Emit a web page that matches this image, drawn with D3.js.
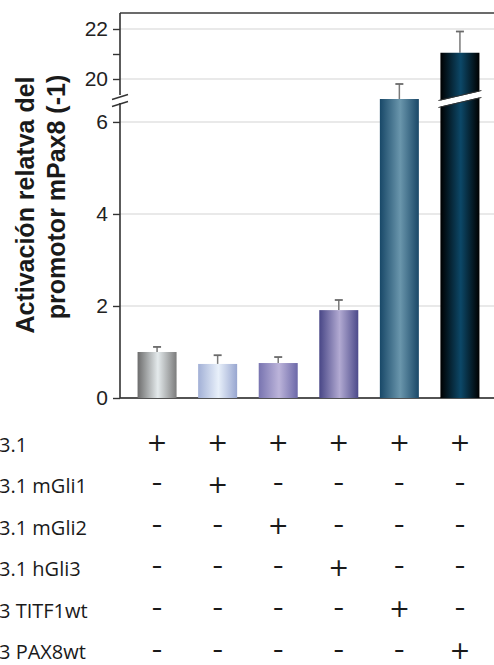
<!DOCTYPE html>
<html>
<head>
<meta charset="utf-8">
<script src="https://cdn.jsdelivr.net/npm/d3@7"></script>
<style>
  body { margin: 0; background: #fff; }
  svg { display: block; }
</style>
</head>
<body>
<div id="chart"></div>
<script>
// bar data (one bar per transfection)
const conditions = ["pcDNA", "mGli1", "mGli2", "hGli3", "TITF1", "PAX8"];
const values = [1.0, 0.74, 0.76, 1.91, 19.2, 21.05];
const errors = [0.11, 0.19, 0.13, 0.22, 0.6, 0.85];

// y axis ticks, lower and upper segment
const lowerTicks = [0, 2, 4, 6];
const upperTicks = [20, 21, 22];
const upperLabels = [20, 22];
const gridValues = [2, 4, 6, 20, 22];

// table under the chart
const rowLabels = ["3.1", "3.1 mGli1", "3.1 mGli2", "3.1 hGli3", "3 TITF1wt", "3 PAX8wt"];
const signs = [
  ["+", "+", "+", "+", "+", "+"],
  ["-", "+", "-", "-", "-", "-"],
  ["-", "-", "+", "-", "-", "-"],
  ["-", "-", "-", "+", "-", "-"],
  ["-", "-", "-", "-", "+", "-"],
  ["-", "-", "-", "-", "-", "+"]
];

// bar gradient colours: left edge, highlight, right edge
const barColors = [
  ["#6c6c6c", "#e4eaec", "#7c7c7c"],
  ["#a2b0d6", "#e8f0fa", "#98a6d0"],
  ["#7874b0", "#bcb4da", "#6c68a8"],
  ["#484686", "#b2aad2", "#4c4a8a"],
  ["#184868", "#6a96ac", "#1a4868"],
  ["#000000", "#0c4868", "#000000"]
];

const W = 494, H = 665;
const plotLeft = 120, plotRight = 497, plotTop = 13, plotBottom = 398;

const svg = d3.select("#chart").append("svg")
  .attr("width", W)
  .attr("height", H);

// scales, broken y axis
const x = d3.scaleBand()
  .domain(conditions)
  .range([plotLeft, plotRight])
  .paddingInner(0.356)
  .paddingOuter(0.29);

const yLow = d3.scaleLinear().domain([0, 6.39]).range([plotBottom, 104]);
const yHigh = d3.scaleLinear().domain([19.32, 22.64]).range([96, plotTop]);
const y = v => v <= 6.39 ? yLow(v) : yHigh(v);

// gradients
const defs = svg.append("defs");
barColors.forEach((c, i) => {
  const g = defs.append("linearGradient")
    .attr("id", "grad" + i)
    .attr("x1", "0%").attr("x2", "100%")
    .attr("y1", "0%").attr("y2", "0%");
  g.append("stop").attr("offset", "0%").attr("stop-color", c[0]);
  g.append("stop").attr("offset", "52%").attr("stop-color", c[1]);
  g.append("stop").attr("offset", "100%").attr("stop-color", c[2]);
});

// gridlines
svg.append("g").selectAll("line")
  .data(gridValues)
  .enter().append("line")
  .attr("x1", plotLeft).attr("x2", W)
  .attr("y1", d => y(d)).attr("y2", d => y(d))
  .attr("stroke", "#e2e2e2")
  .attr("stroke-width", 1.5);

// frame: top line and x axis
svg.append("line")
  .attr("x1", plotLeft).attr("x2", W)
  .attr("y1", plotTop).attr("y2", plotTop)
  .attr("stroke", "#3a3a3a").attr("stroke-width", 1.6);
svg.append("line")
  .attr("x1", plotLeft).attr("x2", W)
  .attr("y1", plotBottom).attr("y2", plotBottom)
  .attr("stroke", "#1a1a1a").attr("stroke-width", 1.6);

// error bars
const err = svg.append("g").selectAll("g")
  .data(conditions)
  .enter().append("g");
err.append("line")
  .attr("x1", d => x(d) + x.bandwidth() / 2)
  .attr("x2", d => x(d) + x.bandwidth() / 2)
  .attr("y1", (d, i) => y(values[i]))
  .attr("y2", (d, i) => y(values[i] + errors[i]))
  .attr("stroke", "#7a7a7a").attr("stroke-width", 1.5);
err.append("line")
  .attr("x1", d => x(d) + x.bandwidth() / 2 - 4)
  .attr("x2", d => x(d) + x.bandwidth() / 2 + 4)
  .attr("y1", (d, i) => y(values[i] + errors[i]))
  .attr("y2", (d, i) => y(values[i] + errors[i]))
  .attr("stroke", "#6a6a6a").attr("stroke-width", 1.8);

// bars
svg.append("g").selectAll("rect")
  .data(conditions)
  .enter().append("rect")
  .attr("x", d => x(d))
  .attr("width", x.bandwidth())
  .attr("y", (d, i) => y(values[i]))
  .attr("height", (d, i) => plotBottom - y(values[i]))
  .attr("fill", (d, i) => "url(#grad" + i + ")");

// break slash across bars that pass the break
const breakY = 99;
conditions.forEach((d, i) => {
  if (y(values[i]) > breakY - 20) return;
  const x0 = x(d) - 2, x1 = x(d) + x.bandwidth() + 2;
  const yl = breakY + 5, yr = breakY - 5;
  svg.append("path")
    .attr("d", `M${x0},${yl - 3}L${x1},${yr - 3}L${x1},${yr + 3}L${x0},${yl + 3}Z`)
    .attr("fill", "#fff");
  svg.append("line").attr("x1", x0).attr("x2", x1)
    .attr("y1", yl - 3.5).attr("y2", yr - 3.5)
    .attr("stroke", "#333").attr("stroke-width", 1);
  svg.append("line").attr("x1", x0).attr("x2", x1)
    .attr("y1", yl + 3.5).attr("y2", yr + 3.5)
    .attr("stroke", "#333").attr("stroke-width", 1);
});

// y axes
const axisStyle = g => {
  g.select(".domain").remove();
  g.selectAll(".tick line").attr("stroke", "#333").attr("stroke-width", 1.4);
  g.selectAll(".tick text")
    .attr("font-family", "'Liberation Sans', Arial, sans-serif")
    .attr("font-size", 21)
    .attr("fill", "#222");
};

svg.append("g")
  .attr("transform", `translate(${plotLeft},0)`)
  .call(d3.axisLeft(yLow).tickValues(lowerTicks).tickSize(7).tickPadding(5)
    .tickFormat(d3.format("d")))
  .call(axisStyle);

svg.append("g")
  .attr("transform", `translate(${plotLeft},0)`)
  .call(d3.axisLeft(yHigh).tickValues(upperTicks).tickSize(7).tickPadding(5)
    .tickFormat(d => upperLabels.includes(d) ? d : ""))
  .call(axisStyle);

// axis line with the break gap
svg.append("line")
  .attr("x1", plotLeft).attr("x2", plotLeft)
  .attr("y1", plotTop).attr("y2", 95)
  .attr("stroke", "#333").attr("stroke-width", 1.6);
svg.append("line")
  .attr("x1", plotLeft).attr("x2", plotLeft)
  .attr("y1", 103).attr("y2", plotBottom)
  .attr("stroke", "#333").attr("stroke-width", 1.6);
[97, 104].forEach(yy => {
  svg.append("line")
    .attr("x1", plotLeft - 8).attr("x2", plotLeft + 8)
    .attr("y1", yy + 2.5).attr("y2", yy - 2.5)
    .attr("stroke", "#333").attr("stroke-width", 1.4);
});

// y axis title
const title = svg.append("g")
  .attr("font-family", "'Liberation Sans', Arial, sans-serif")
  .attr("font-weight", "bold")
  .attr("font-size", 25)
  .attr("fill", "#1a1a1a")
  .attr("text-anchor", "middle");
title.append("text")
  .attr("transform", "translate(34,205) rotate(-90)")
  .text("Activación relatva del");
title.append("text")
  .attr("transform", "translate(65,197) rotate(-90)")
  .text("promotor mPax8 (-1)");

// table rows
const rowY = d3.scalePoint()
  .domain(rowLabels)
  .range([452, 659]);
const signY = d3.scalePoint()
  .domain(rowLabels)
  .range([443, 651]);

const table = svg.append("g")
  .attr("fill", "#1a1a1a");

table.selectAll(".rowlabel")
  .data(rowLabels)
  .enter().append("text")
  .attr("class", "rowlabel")
  .attr("x", -1)
  .attr("y", d => rowY(d))
  .attr("font-family", "'Open Sans', 'Noto Sans', sans-serif")
  .attr("font-size", 20)
  .text(d => d);

rowLabels.forEach((r, ri) => {
  const cell = table.selectAll(".s" + ri)
    .data(signs[ri])
    .enter().append("text")
    .attr("class", "s" + ri)
    .attr("x", (d, i) => x(conditions[i]) + x.bandwidth() / 2)
    .attr("y", d => signY(r) + (d === "+" ? 8 : 6.5))
    .attr("text-anchor", "middle")
    .attr("font-family", "'DejaVu Sans', sans-serif")
    .attr("font-size", d => d === "+" ? 25 : 24)
    .text(d => d);
  cell.filter(d => d === "-")
    .attr("textLength", 11)
    .attr("lengthAdjust", "spacingAndGlyphs");
});
</script>
</body>
</html>
